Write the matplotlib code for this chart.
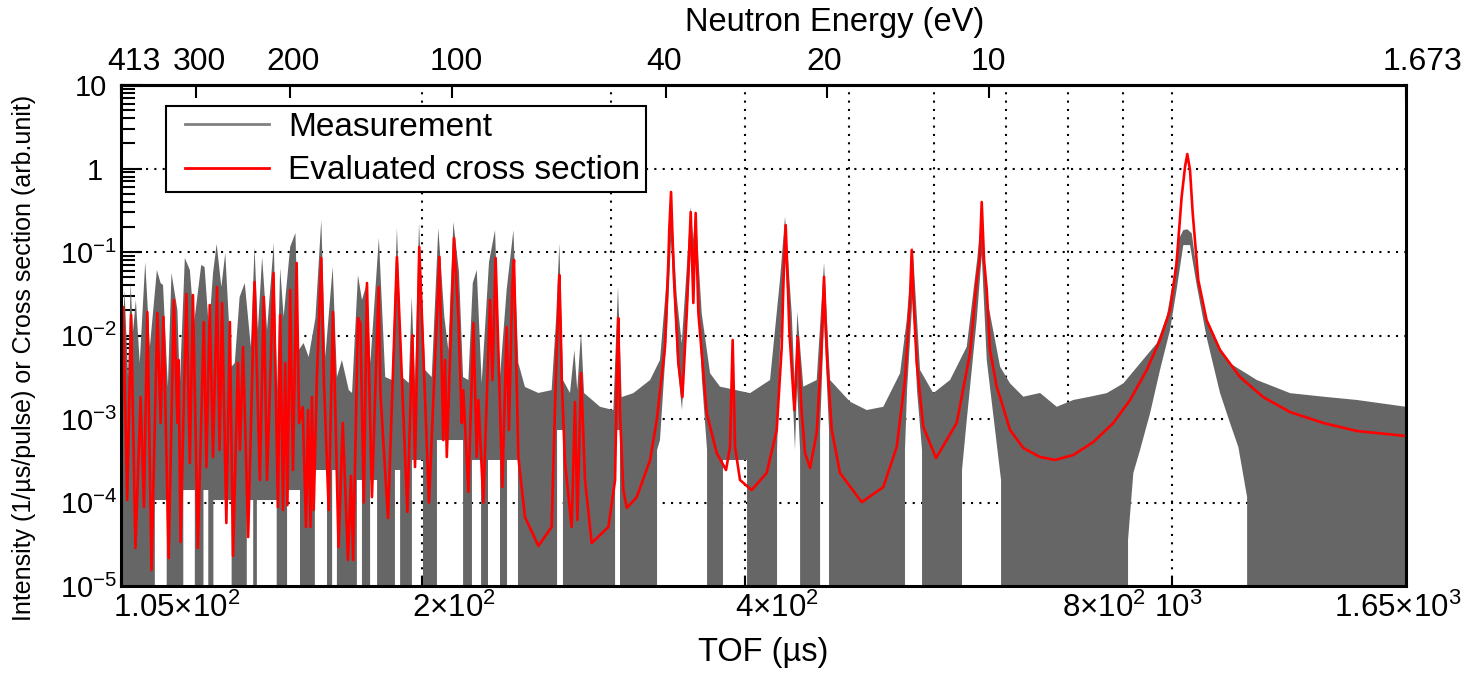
import numpy as np
import matplotlib
matplotlib.use("Agg")
import matplotlib.pyplot as plt
from matplotlib.ticker import FixedLocator, FixedFormatter, NullLocator, NullFormatter, LogLocator
from matplotlib.transforms import ScaledTranslation
from matplotlib.lines import Line2D
from matplotlib.legend_handler import HandlerLine2D

plt.rcParams['font.family'] = ['Liberation Sans', 'DejaVu Sans']
plt.rcParams['mathtext.fontset'] = 'custom'
plt.rcParams['mathtext.rm'] = 'Liberation Sans'
plt.rcParams['mathtext.it'] = 'Liberation Sans:italic'
plt.rcParams['mathtext.bf'] = 'Liberation Sans:bold'
plt.rcParams['mathtext.default'] = 'regular'

# ---------------- data ----------------
# evaluated cross section (TOF in microseconds, arb. unit)
xs_tof = [
    105.0, 105.5, 106.4, 107.3, 108.3, 109.5, 110.3, 111.1, 112.1, 113.5,
    114.3, 115.0, 116.3, 117.6, 118.5, 118.8, 119.3, 120.8, 121.7, 122.5,
    123.8, 125.4, 126.1, 127.0, 127.9, 129.0, 129.7, 130.4, 131.6, 132.6,
    133.5, 134.9, 135.5, 136.4, 137.9, 139.8, 141.4, 142.6, 143.6, 145.6,
    147.0, 147.7, 148.6, 149.3, 150.0, 150.9, 151.8, 153.0, 153.8, 155.0,
    156.1, 156.8, 157.6, 158.1, 158.7, 159.8, 161.3, 162.2, 163.9, 165.4,
    167.4, 168.9, 170.8, 171.9, 172.7, 174.5, 175.4, 176.7, 177.9, 179.8,
    182.4, 183.1, 186.1, 189.7, 194.0, 196.1, 197.2, 199.0, 203.2, 207.8,
    209.5, 210.3, 211.1, 214.4, 216.4, 218.0, 218.7, 221.1, 223.5, 225.1,
    225.9, 228.3, 231.6, 232.8, 234.4, 237.8, 240.0, 241.2, 242.9, 243.8,
    246.1, 249.6, 256.9, 264.3, 267.2, 267.9, 268.7, 269.4, 270.1, 272.0,
    275.9, 277.9, 279.3, 281.5, 283.9, 288.0, 298.5, 302.8, 303.9, 304.9,
    306.0, 308.2, 310.5, 317.2, 326.4, 331.1, 337.0, 339.4, 340.1, 341.4,
    342.3, 343.6, 346.8, 349.8, 353.1, 356.1, 358.1, 359.9, 362.0, 364.6,
    368.5, 376.5, 384.1, 387.4, 389.6, 391.6, 395.8, 405.8, 419.1, 428.2,
    432.8, 434.5, 436.5, 438.4, 439.9, 444.7, 447.9, 451.8, 455.0, 459.9,
    466.5, 470.6, 472.4, 473.9, 475.4, 477.3, 481.8, 490.4, 513.8, 538.1,
    553.8, 563.7, 569.8, 571.9, 574.1, 578.1, 586.3, 602.5, 629.8, 648.1,
    657.4, 661.4, 664.5, 667.8, 671.7, 676.4, 686.2, 691.1, 706.1, 726.5,
    753.0, 777.6, 808.7, 844.1, 881.1, 913.2, 946.5, 973.8, 994.9, 1009,
    1020, 1027.5, 1032.5, 1038.5, 1044.5, 1057, 1076, 1107.5, 1156, 1215,
    1287, 1382, 1485, 1650,
]
xs_value = [
    1.53e-4, 2.19e-2, 1.07e-4, 1.76e-2, 2.85e-5, 1.83e-3, 8.8e-5, 1.91e-2, 1.55e-5, 1.86e-2,
    8.96e-4, 1.67e-2, 2.16e-5, 2.66e-2, 8.96e-4, 5.09e-3, 3.37e-5, 3.14e-2, 2.97e-4, 3.05e-2,
    2.85e-5, 1.45e-2, 2.66e-4, 2.32e-2, 3.51e-4, 3.81e-2, 4.25e-4, 2.45e-2, 5.68e-5, 1.45e-2,
    2.29e-5, 4.68e-3, 4.25e-4, 7.28e-3, 3.86e-5, 4.37e-2, 1.86e-4, 2.89e-2, 1.86e-4, 5.60e-2,
    8.83e-5, 1.76e-2, 8.13e-5, 4.68e-3, 9.3e-5, 3.51e-2, 2.45e-4, 7.38e-2, 8.96e-4, 1.39e-3,
    5.09e-5, 1.28e-3, 5.09e-5, 1.83e-3, 8.13e-5, 3.18e-3, 8.48e-2, 2.93e-3, 8.13e-5, 1.91e-2,
    2.93e-5, 8.96e-4, 2.05e-5, 2.08e-4, 2.05e-5, 1.62e-2, 1.41e-2, 1.0e-4, 4.25e-2, 1.16e-4,
    3.81e-2, 2.05e-3, 6.52e-5, 8.71e-2, 7.70e-5, 1.01e-2, 2.66e-4, 0.115, 1.0e-4, 8.71e-2,
    5.60e-4, 5.09e-3, 3.51e-4, 0.147, 1.67e-2, 8.96e-4, 2.22e-3, 1.34e-4, 1.41e-2, 3.51e-4,
    1.69e-3, 1.0e-4, 2.66e-2, 2.93e-3, 8.48e-2, 1.53e-4, 1.26e-2, 7.38e-4, 3.81e-2, 8.02e-2,
    3.51e-4, 6.71e-5, 3.02e-5, 5.09e-5, 7.28e-3, 1.53e-2, 5.30e-2, 1.53e-2, 2.93e-3, 2.97e-4,
    5.09e-5, 1.60e-3, 6.17e-5, 3.56e-3, 1.86e-4, 3.27e-5, 5.09e-5, 1.86e-4, 2.93e-3, 1.62e-2,
    1.18e-3, 1.41e-4, 8.60e-5, 1.16e-4, 3.23e-4, 9.73e-4, 7.28e-3, 7.38e-2, 0.183, 0.523,
    0.183, 4.62e-2, 4.68e-3, 1.83e-3, 1.86e-2, 0.301, 2.45e-2, 0.293, 1.86e-2, 6.17e-3,
    1.18e-3, 3.92e-4, 2.45e-4, 4.62e-4, 8.83e-3, 4.62e-4, 1.86e-4, 1.41e-4, 2.26e-4, 7.38e-4,
    7.28e-3, 4.62e-2, 0.210, 4.62e-2, 1.16e-2, 1.28e-3, 9.59e-3, 1.18e-3, 3.92e-4, 2.59e-4,
    6.80e-4, 4.68e-3, 1.53e-2, 5.02e-2, 1.53e-2, 4.68e-3, 7.38e-4, 2.26e-4, 1.01e-4, 1.53e-4,
    4.62e-4, 2.93e-3, 2.66e-2, 0.106, 2.66e-2, 4.68e-3, 8.02e-4, 3.41e-4, 8.96e-4, 6.17e-3,
    4.62e-2, 8.02e-2, 0.397, 8.02e-2, 3.51e-2, 6.71e-3, 2.42e-3, 1.83e-3, 7.38e-4, 4.49e-4,
    3.51e-4, 3.23e-4, 3.71e-4, 5.30e-4, 8.96e-4, 1.69e-3, 3.86e-3, 8.83e-3, 2.02e-2, 7.38e-2,
    0.456, 1.05, 1.49, 0.959, 0.293, 4.62e-2, 1.53e-2, 6.71e-3, 3.18e-3, 1.83e-3,
    1.21e-3, 8.96e-4, 7.18e-4, 6.26e-4,
]

# measured intensity (1/us/pulse): upper envelope of the count-rate trace
meas_tof = [
    105.0, 105.8, 106.6, 107.2, 107.7, 108.4, 109.3, 110.6, 111.7, 113.4,
    114.3, 114.9, 116.1, 117.0, 118.5, 119.1, 120.4, 121.7, 122.8, 124.7,
    125.6, 126.8, 127.9, 128.9, 130.2, 131.3, 133.0, 134.0, 135.4, 136.9,
    138.7, 139.8, 140.8, 142.1, 143.6, 145.7, 146.7, 147.7, 148.8, 150.9,
    152.6, 153.7, 155.3, 157.0, 159.3, 161.3, 162.7, 165.3, 166.8, 168.6,
    171.1, 172.3, 174.5, 176.0, 177.9, 179.2, 182.5, 185.0, 187.7, 189.7,
    191.8, 194.6, 195.8, 197.2, 198.9, 201.5, 204.4, 207.3, 210.0, 211.8,
    214.1, 216.7, 218.6, 221.1, 223.2, 225.1, 227.5, 231.1, 234.1, 236.6,
    240.0, 243.5, 246.1, 249.6, 256.9, 264.3, 266.8, 268.7, 270.8, 274.9,
    277.5, 279.2, 281.5, 283.3, 293.2, 301.7, 304.7, 307.1, 314.9, 326.4,
    333.4, 338.2, 341.4, 345.6, 349.3, 352.5, 356.1, 357.9, 359.9, 364.6,
    371.2, 379.2, 404.4, 422.1, 431.2, 435.9, 442.2, 445.3, 447.5, 453.3,
    466.5, 473.9, 480.0, 501.1, 519.3, 538.1, 557.8, 565.8, 573.1, 582.2,
    599.0, 620.9, 643.5, 657.4, 664.5, 671.7, 691.2, 706.1, 726.5, 753.0,
    780.4, 808.7, 838.2, 868.7, 900.2, 933.0, 967.0, 987.9, 1002, 1012.8,
    1023.7, 1032.5, 1042.3, 1053.5, 1068.5, 1099.7, 1131.5, 1198.4, 1287, 1382,
    1485, 1650,
]
meas_top = [
    2.93e-3, 3.51e-2, 3.18e-3, 4.25e-2, 1.07e-2, 2.66e-2, 4.68e-3, 7.59e-2, 7.28e-3, 6.09e-2,
    4.25e-2, 4.02e-2, 2.42e-3, 5.60e-2, 2.02e-2, 2.42e-3, 8.48e-2, 6.09e-2, 1.41e-2, 6.99e-2,
    6.61e-2, 1.16e-2, 5.60e-2, 0.125, 3.81e-2, 9.73e-2, 4.20e-3, 4.68e-3, 2.89e-2, 4.25e-2,
    7.28e-3, 0.115, 1.16e-2, 8.71e-2, 1.16e-2, 0.128, 2.22e-3, 6.43e-2, 1.67e-2, 0.115,
    0.169, 6.71e-3, 8.13e-3, 5.53e-3, 1.62e-2, 0.242, 5.53e-3, 6.61e-2, 3.18e-3, 5.09e-3,
    2.22e-3, 2.05e-3, 5.30e-2, 2.66e-2, 4.25e-2, 4.68e-3, 0.147, 3.18e-3, 2.93e-3, 0.194,
    3.18e-3, 2.70e-3, 2.89e-2, 2.70e-3, 0.222, 3.86e-3, 3.18e-3, 0.194, 1.67e-2, 6.71e-3,
    0.229, 5.76e-2, 3.18e-3, 2.93e-3, 4.25e-2, 6.09e-2, 2.70e-3, 7.59e-2, 0.183, 3.18e-3,
    3.51e-2, 0.183, 4.68e-3, 2.42e-3, 2.05e-3, 2.22e-3, 1.53e-2, 0.127, 2.93e-3, 2.05e-3,
    6.71e-3, 2.22e-3, 1.11e-2, 2.05e-3, 1.40e-3, 1.28e-3, 3.84e-2, 1.83e-3, 2.04e-3, 2.93e-3,
    5.09e-3, 4.62e-2, 0.46, 2.92e-2, 8.05e-3, 4.62e-2, 0.349, 0.139, 0.291, 1.84e-2,
    3.53e-3, 2.44e-3, 2.04e-3, 2.93e-3, 4.62e-2, 0.264, 1.84e-2, 2.04e-3, 1.93e-2, 2.44e-3,
    2.93e-3, 7.43e-2, 2.93e-3, 1.61e-3, 1.28e-3, 1.40e-3, 3.53e-3, 1.53e-2, 0.116, 3.86e-3,
    2.04e-3, 2.93e-3, 7.33e-3, 7.33e-2, 0.264, 2.92e-2, 4.23e-3, 2.67e-3, 1.85e-3, 2.05e-3,
    1.40e-3, 1.69e-3, 1.85e-3, 2.04e-3, 2.67e-3, 4.64e-3, 8.05e-3, 1.68e-2, 4.62e-2, 0.139,
    0.183, 0.187, 0.168, 6.09e-2, 2.02e-2, 8.05e-3, 4.64e-3, 2.93e-3, 2.04e-3, 1.85e-3,
    1.69e-3, 1.40e-3,
]
# lower envelope of the same trace; 0 where bins with zero counts occur
meas_low_tof = [
    105.0,
    112.9, 112.9, 115.8, 115.8,
    120.0, 120.0, 123.0, 123.0,
    125.3, 125.3, 126.6, 126.6,
    128.0, 128.0, 133.1, 133.1,
    137.5, 137.5, 139.4, 139.4,
    140.5, 140.5, 146.6, 146.6,
    149.9, 149.9, 154.1, 154.1,
    159.1, 159.1, 163.3, 163.3,
    165.1, 165.1, 166.8, 166.8,
    174.1, 174.1, 176.0, 176.0,
    179.1, 179.1, 181.8, 181.8,
    188.9, 188.9, 191.0, 191.0,
    195.9, 195.9, 200.6, 200.6,
    206.7, 206.7, 218.6, 218.6,
    222.8, 222.8, 227.2, 227.2,
    230.6, 230.6, 236.6, 236.6,
    240.2, 240.2, 245.9, 245.9,
    267.4, 267.4, 270.8, 270.8,
    302.8, 302.8, 306.0, 306.0,
    331.3, 331.3, 333.4, 338.5, 341.4, 345.8, 349.5, 352.5, 356.3, 358.6,
    360.2, 364.8, 368.8, 368.8,
    381.6, 381.6, 401.8, 401.8,
    428.5, 428.5, 431.2, 435.9, 442.5, 445.3, 447.2, 450.2, 450.2,
    469.9, 469.9, 473.9, 479.0, 479.0,
    563.7, 563.7, 566.2, 573.1, 578.4, 584.7, 584.7,
    637.0, 637.0, 643.5, 657.4, 664.5, 671.7, 692.6, 692.6,
    909.3, 909.3, 919.7, 933.0, 953.4, 973.8, 994.9, 1009, 1023.7, 1038.5,
    1053.5, 1076, 1107.5, 1131.5, 1151.9, 1173.7, 1173.7,
    1650,
]
meas_low = [
    0,
    0, 1.07e-4, 1.07e-4, 0,
    0, 1.41e-4, 1.41e-4, 0,
    0, 1.41e-4, 1.41e-4, 0,
    0, 1.07e-4, 1.07e-4, 0,
    0, 1.07e-4, 1.07e-4, 0,
    0, 1.07e-4, 1.07e-4, 0,
    0, 1.41e-4, 1.41e-4, 0,
    0, 2.45e-4, 2.45e-4, 0,
    0, 2.45e-4, 2.45e-4, 0,
    0, 1.86e-4, 1.86e-4, 0,
    0, 1.86e-4, 1.86e-4, 0,
    0, 2.45e-4, 2.45e-4, 0,
    0, 3.23e-4, 3.23e-4, 0,
    0, 5.60e-4, 5.60e-4, 0,
    0, 3.23e-4, 3.23e-4, 0,
    0, 3.23e-4, 3.23e-4, 0,
    0, 3.23e-4, 3.23e-4, 0,
    0, 7.38e-4, 7.38e-4, 0,
    0, 7.38e-4, 7.38e-4, 0,
    0, 4.25e-4, 5.60e-4, 1.16e-2, 0.139, 5.09e-3, 1.28e-3, 8.83e-3, 0.106, 6.09e-2,
    9.18e-2, 2.93e-3, 4.25e-4, 0,
    0, 3.23e-4, 3.23e-4, 0,
    0, 4.25e-4, 6.71e-3, 9.18e-2, 2.93e-3, 4.25e-4, 2.55e-3, 4.25e-4, 0,
    0, 7.38e-4, 1.53e-2, 7.38e-4, 0,
    0, 4.25e-4, 2.22e-3, 3.05e-2, 2.22e-3, 4.25e-4, 0,
    0, 2.45e-4, 9.73e-4, 1.53e-2, 9.18e-2, 5.09e-3, 1.86e-4, 0,
    0, 3.56e-5, 2.26e-4, 4.25e-4, 1.18e-3, 3.86e-3, 1.16e-2, 3.51e-2, 0.121, 0.121,
    4.02e-2, 9.59e-3, 2.05e-3, 8.96e-4, 4.62e-4, 1.16e-4, 0,
    0,
]

tof_tick_values = [105, 200, 400, 800, 1000, 1650]
tof_tick_labels = ['1.05×10$^{2}$', '2×10$^{2}$', '4×10$^{2}$', '8×10$^{2}$',
                   '10$^{3}$', '1.65×10$^{3}$']
tof_minor_values = [300, 500, 600, 700, 900]
energy_tick_values = [413, 300, 200, 100, 40, 20, 10, 1.673]
energy_tick_labels = ['413', '300', '200', '100', '40', '20', '10', '1.673']
y_tick_values = [1e-5, 1e-4, 1e-3, 1e-2, 1e-1, 1, 10]
y_tick_labels = ['10$^{-5}$', '10$^{-4}$', '10$^{-3}$', '10$^{-2}$',
                 '10$^{-1}$', '1', '10']
grid_tof = [200, 300, 400, 500, 600, 700, 800, 900, 1000]
grid_int = [1e-4, 1e-3, 1e-2, 1e-1, 1]

# flight-path calibration: neutron energy (eV) at 105 us
T_REF, E_REF = 105.0, 413.0
T_MIN, T_MAX = 105, 1650
Y_MIN, Y_MAX = 1e-5, 10


def tof_to_energy(t):
    t = np.asarray(t, dtype=float)
    with np.errstate(divide='ignore', invalid='ignore'):
        return E_REF * (T_REF / t) ** 2


def energy_to_tof(e):
    e = np.asarray(e, dtype=float)
    with np.errstate(divide='ignore', invalid='ignore'):
        return T_REF * np.sqrt(E_REF / np.abs(e))


# ---------------- figure ----------------
fig = plt.figure(figsize=(14.7, 6.73), dpi=100)
ax = fig.add_axes([121 / 1470, 87 / 673, 1285 / 1470, 501 / 673])
ax.set_xscale('log')
ax.set_yscale('log')
ax.set_xlim(T_MIN, T_MAX)
ax.set_ylim(Y_MIN, Y_MAX)

GREY = '#666666'
dots = (0, (1, 3))
for t in grid_tof:
    ax.axvline(t, color='black', lw=1.5, ls=dots, zorder=1)
for v in grid_int:
    ax.axhline(v, color='black', lw=1.5, ls=dots, zorder=1)

# measured band: upper envelope forward, lower envelope back
low = np.asarray(meas_low, dtype=float)
low_drawn = np.where(low > 0, low, Y_MIN / 10)
band_x = np.concatenate([np.asarray(meas_tof, float), np.asarray(meas_low_tof, float)[::-1]])
band_y = np.concatenate([np.asarray(meas_top, float), low_drawn[::-1]])
ax.fill(band_x, band_y, color=GREY, lw=0, zorder=2)

ax.plot(xs_tof, xs_value, color='red', lw=1.9, zorder=3, solid_joinstyle='round')

for side in ['left', 'bottom', 'top', 'right']:
    ax.spines[side].set_linewidth(2.2)
    ax.spines[side].set_zorder(5)

# bottom (TOF) axis
ax.xaxis.set_major_locator(FixedLocator(tof_tick_values))
ax.xaxis.set_major_formatter(FixedFormatter(tof_tick_labels))
ax.xaxis.set_minor_locator(FixedLocator(tof_minor_values))
ax.xaxis.set_minor_formatter(NullFormatter())
ax.tick_params(axis='x', which='both', direction='in', top=False, bottom=True,
               length=7, width=1.5, labelsize=22.5, pad=5)

# left (intensity) axis
ax.yaxis.set_major_locator(FixedLocator(y_tick_values))
ax.yaxis.set_major_formatter(FixedFormatter(y_tick_labels))
ax.yaxis.set_minor_locator(LogLocator(base=10, subs=np.arange(2, 10), numticks=30))
ax.yaxis.set_minor_formatter(NullFormatter())
ax.tick_params(axis='y', which='major', direction='in', left=True, right=False,
               length=15, width=1.5, labelsize=21, pad=3)
ax.tick_params(axis='y', which='minor', direction='in', left=True, right=False,
               length=10, width=1.5)

# top (neutron energy) axis
secax = ax.secondary_xaxis('top', functions=(tof_to_energy, energy_to_tof))
secax.xaxis.set_major_locator(FixedLocator(energy_tick_values))
secax.xaxis.set_major_formatter(FixedFormatter(energy_tick_labels))
secax.xaxis.set_minor_locator(NullLocator())
secax.tick_params(axis='x', which='major', direction='in', length=9.5, width=1.5,
                  labelsize=23, pad=6)
secax.spines['top'].set_linewidth(2.2)

ax.set_xlabel('TOF (µs)', fontsize=23.5)
ax.xaxis.label.set_va('center')
ax.xaxis.set_label_coords(0.4996, (586 - 653) / 501)
ax.set_ylabel('Intensity (1/µs/pulse) or Cross section (arb.unit)', fontsize=18)
ax.yaxis.label.set_va('center')
ax.yaxis.set_label_coords((24 - 121) / 1285, (586 - 357.5) / 501)
fig.text(834.5 / 1470, 1 - 22 / 673, 'Neutron Energy (eV)', fontsize=23.5,
         ha='center', va='center')

handles = [Line2D([], [], color='#808080', lw=2.0), Line2D([], [], color='red', lw=2.0)]
leg = ax.legend(handles, ['Measurement', 'Evaluated cross section'],
                loc='upper left', bbox_to_anchor=(166 / 1470, 1 - 106 / 673),
                bbox_transform=fig.transFigure, fontsize=24, frameon=True,
                fancybox=False, edgecolor='black', framealpha=1, borderpad=0.175,
                numpoints=2, handlelength=3.3, handletextpad=0.2,
                labelspacing=0.38, borderaxespad=0,
                handler_map={Line2D: HandlerLine2D(marker_pad=0.4)})
leg.get_frame().set_linewidth(1.5)
leg.set_zorder(6)

# fine placement of individual tick labels (pixel offsets)
fig.canvas.draw()


def shift(label, dx_px, dy_px=0.0):
    label.set_transform(label.get_transform() +
                        ScaledTranslation(dx_px / 100, dy_px / 100, fig.dpi_scale_trans))


x_shift = {'1.05×10$^{2}$': ('left', -8), '2×10$^{2}$': ('left', -9.5),
           '4×10$^{2}$': ('left', -10), '8×10$^{2}$': ('left', -6),
           '10$^{3}$': ('center', 5.5), '1.65×10$^{3}$': ('center', -8.5)}
for lab in ax.xaxis.get_majorticklabels():
    key = lab.get_text()
    if key in x_shift:
        ha, dx = x_shift[key]
        lab.set_ha(ha)
        shift(lab, dx)

y_shift = {'10': -10, '1': -14}
for lab in ax.yaxis.get_majorticklabels():
    if lab.get_text() in y_shift:
        shift(lab, y_shift[lab.get_text()])

e_shift = {'413': 13, '300': 3.5, '200': 2.5, '100': 4, '40': -1, '20': -3,
           '10': -1, '1.673': 17}
for lab in secax.xaxis.get_majorticklabels():
    if lab.get_text() in e_shift:
        shift(lab, e_shift[lab.get_text()])

fig.savefig('out.png', dpi=100)
